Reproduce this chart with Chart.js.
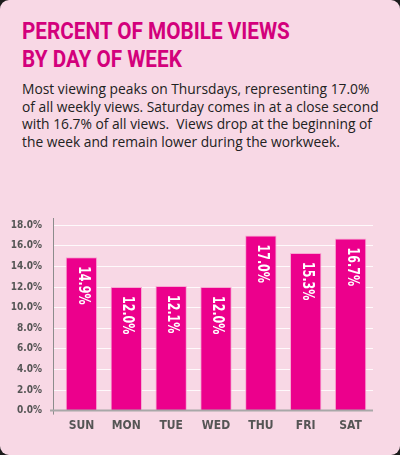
<!DOCTYPE html>
<html>
<head>
<meta charset="utf-8">
<script src="https://cdn.jsdelivr.net/npm/chart.js@4"></script>
<style>
  html, body { margin: 0; padding: 0; background: #1c1c1c; }
  #card {
    position: relative; width: 400px; height: 455px; overflow: hidden;
    background: #f8d8e5; border-radius: 9px;
  }
  h1 {
    position: absolute; left: 22px; top: 17px; margin: 0;
    font-family: Roboto, sans-serif; font-weight: bold;
    font-size: 24.5px; line-height: 28px; color: #d3007c;
    transform-origin: 0 0; white-space: nowrap;
  }
  p {
    position: absolute; left: 22px; top: 80px; margin: 0;
    font-family: "Open Sans", sans-serif; font-size: 13.8px; line-height: 17.5px;
    color: #222; white-space: pre;
  }
  #wrap { position: absolute; left: 0; top: 200px; width: 400px; height: 251px; }
</style>
</head>
<body>
<div id="card">
  <h1 id="title"><span id="t1">PERCENT OF MOBILE VIEWS</span><br>BY DAY OF WEEK</h1>
  <p>Most viewing peaks on Thursdays, representing 17.0%
of all weekly views. Saturday comes in at a close second
with 16.7% of all views.  Views drop at the beginning of
the week and remain lower during the workweek.</p>
  <div id="wrap"><canvas id="mychart"></canvas></div>
</div>
<script>
const days = ['SUN', 'MON', 'TUE', 'WED', 'THU', 'FRI', 'SAT'];
const viewShare = [14.9, 12.0, 12.1, 12.0, 17.0, 15.3, 16.7];
const yTicks = [0, 2, 4, 6, 8, 10, 12, 14, 16, 18];

const narrow = '"DejaVu Sans Condensed", "Liberation Sans Narrow", sans-serif';

// squeeze the title to the condensed look of the original
const t1 = document.getElementById('t1');
document.getElementById('title').style.transform = 'scaleX(' + (268 / t1.offsetWidth) + ')';

// writes the value down inside each bar, rotated
const barLabels = {
    id: 'barLabels',
    afterDatasetsDraw(chart) {
        const c = chart.ctx;
        const meta = chart.getDatasetMeta(0);
        c.save();
        c.fillStyle = '#ffffff';
        c.font = 'bold 15px ' + narrow;
        c.textAlign = 'left';
        c.textBaseline = 'middle';
        meta.data.forEach(function (bar, i) {
            c.save();
            c.translate(bar.x + 1, bar.y + 9);
            c.rotate(Math.PI / 2);
            c.scale(0.82, 1);
            c.fillText(viewShare[i].toFixed(1) + '%', 0, 0);
            c.restore();
        });
        c.restore();
    }
};

// axis lines sit a little left of the first bar, like the original
const axisLines = {
    id: 'axisLines',
    afterDatasetsDraw(chart) {
        const c = chart.ctx;
        const a = chart.chartArea;
        c.save();
        c.strokeStyle = '#8c8c8c';
        c.lineWidth = 1;
        c.beginPath();
        c.moveTo(a.left - 5.5, a.top);
        c.lineTo(a.left - 5.5, a.bottom + 4);
        c.stroke();
        c.strokeStyle = '#a8a8a8';
        c.lineWidth = 2;
        c.beginPath();
        c.moveTo(a.left - 9, a.bottom);
        c.lineTo(a.right, a.bottom);
        c.stroke();
        c.restore();
    }
};

const ctx = document.getElementById('mychart');
new Chart(ctx, {
    type: 'bar',
    data: {
        labels: days,
        datasets: [{
            data: viewShare,
            backgroundColor: '#ec008c',
            borderColor: '#f7a8d2',
            borderWidth: 1,
            barPercentage: 0.7,
            categoryPercentage: 1
        }]
    },
    options: {
        responsive: true,
        maintainAspectRatio: false,
        animation: false,
        layout: { padding: { left: 0, right: 27, top: 12, bottom: 10 } },
        plugins: { legend: { display: false }, tooltip: { enabled: false } },
        scales: {
            x: {
                grid: { display: false, drawTicks: false },
                border: { display: false },
                ticks: {
                    color: '#555', padding: 8,
                    font: { family: narrow, weight: 'bold', size: 12 }
                }
            },
            y: {
                min: 0, max: 18.7,
                afterFit(scale) { scale.width = 59; },
                afterBuildTicks(scale) { scale.ticks = yTicks.map(v => ({ value: v })); },
                grid: { color: 'rgba(255,255,255,0.85)', lineWidth: 1, drawTicks: true, tickLength: 5, tickColor: 'rgba(255,255,255,0.85)' },
                border: { display: false },
                ticks: {
                    color: '#555', padding: 12,
                    font: { family: narrow, weight: 'bold', size: 10 },
                    callback: v => v.toFixed(1) + '%'
                }
            }
        }
    },
    plugins: [barLabels, axisLines]
});
</script>
</body>
</html>
